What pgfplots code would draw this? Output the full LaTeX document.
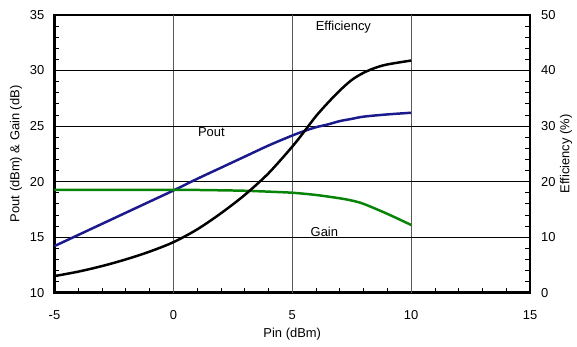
\documentclass[border=0pt]{standalone}
\usepackage{pgfplots}
\pgfplotsset{compat=1.18}
\usepackage{fontspec}
\setmainfont{Liberation Sans}
\definecolor{poutblue}{HTML}{1A1A8C}
\definecolor{gaingreen}{HTML}{088408}
\begin{document}
\begin{tikzpicture}[font=\fontsize{13}{15}\selectfont]
\pgfplotsset{every axis/.append style={
  scale only axis, width=476bp, height=278bp,
  xmin=-5, xmax=15,
  font=\fontsize{13}{15}\selectfont,
  tick label style={font=\fontsize{13}{15}\selectfont, inner sep=0pt},
  /pgf/number format/assume math mode=true,
  tick align=inside,
  major tick length=5bp, minor tick length=5bp,
  every tick/.style={black, line width=0.8pt},
}}
\begin{axis}[name=main,
  ymin=10, ymax=35,
  xtick={-5,0,5,10,15},
  ytick={10,15,20,25,30,35},
  minor x tick num=4,
  minor y tick num=4,
  xtick pos=bottom, ytick pos=left,
  axis line style={line width=2.9pt},
  xticklabel style={anchor=center, yshift=-22bp},
  yticklabel style={anchor=east, xshift=-10bp},
  clip=false,
]
% grid lines
\addplot[gray!70!black, line width=0.7pt, forget plot] coordinates {(0,10) (0,35)};
\addplot[gray!70!black, line width=0.7pt, forget plot] coordinates {(5,10) (5,35)};
\addplot[gray!70!black, line width=0.7pt, forget plot] coordinates {(10,10) (10,35)};
\addplot[black, line width=0.7pt, forget plot] coordinates {(-5,15) (15,15)};
\addplot[black, line width=0.7pt, forget plot] coordinates {(-5,20) (15,20)};
\addplot[black, line width=0.7pt, forget plot] coordinates {(-5,25) (15,25)};
\addplot[black, line width=0.7pt, forget plot] coordinates {(-5,30) (15,30)};
% Pout
\addplot[poutblue, line width=2.5pt, smooth] coordinates {
(-5,14.2) (-4,15.2) (-3,16.2) (-2,17.2) (-1,18.2) (0,19.2) (1,20.25) (2,21.25) (3,22.25) (4,23.25) (5,24.15) (5.5,24.55) (6,24.9) (6.5,25.15) (7,25.45) (7.5,25.65) (8,25.85) (9,26.05) (10,26.2)};
% Gain
\addplot[gaingreen, line width=2.5pt, smooth] coordinates {
(-5,19.25) (-3,19.25) (-1,19.25) (0,19.25) (1,19.25) (2,19.22) (3,19.18) (4,19.1) (5,19.0) (6,18.8) (7,18.5) (7.5,18.3) (8,18.0) (9,17.1) (10,16.1)};
\node at (axis cs:1.6,24.45) {Pout};
\node at (axis cs:6.35,15.5) {Gain};
\node at (axis cs:7.15,33.9) {Efficiency};
\end{axis}
\begin{axis}[
  ymin=0, ymax=50,
  ytick={0,10,20,30,40,50},
  minor y tick num=4,
  axis x line=none,
  axis y line*=right,
  axis line style={line width=2.9pt},
  yticklabel style={anchor=west, xshift=11bp},
]
\addplot[black, line width=2.5pt, smooth] coordinates {
(-5,3.0) (-4,3.8) (-3,4.8) (-2,6.0) (-1,7.4) (0,9.1) (1,11.4) (2,14.3) (3,17.6) (4,21.5) (5,26.3) (5.5,29.0) (6,31.8) (6.5,34.2) (7,36.4) (7.5,38.3) (8,39.6) (8.5,40.5) (9,41.1) (10,41.8)};
\end{axis}
\node[rotate=90] at ([xshift=-38.5bp]main.west) {Pout (dBm) \& Gain (dB)};
\node[rotate=90] at ([xshift=36bp]main.east) {Efficiency (\%)};
\node at ([yshift=-41bp]main.south) {Pin (dBm)};
\pgfresetboundingbox
\path[use as bounding box] ([xshift=-54.5bp,yshift=-54bp]main.south west) rectangle ([xshift=47bp,yshift=15bp]main.north east);
\end{tikzpicture}
\end{document}
